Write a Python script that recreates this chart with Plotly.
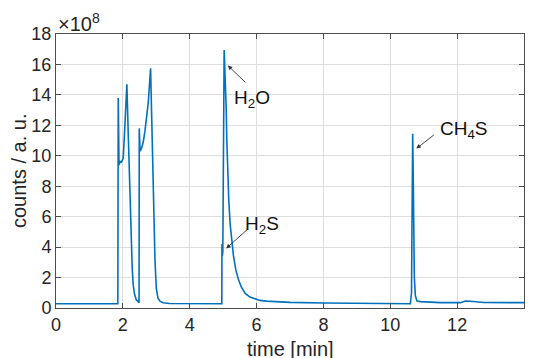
import plotly.graph_objects as go

# time [min]
time_min = [0.0, 1.85, 1.862, 1.885, 1.92, 1.95, 1.98, 2.01, 2.05, 2.09, 2.12,
            2.16, 2.20, 2.25, 2.28, 2.31, 2.35, 2.40, 2.46, 2.485, 2.49, 2.515,
            2.56, 2.61, 2.66, 2.71, 2.76, 2.80, 2.83, 2.86, 2.89, 2.93, 2.96,
            3.00, 3.05, 3.11, 3.20, 3.40, 4.00, 4.96, 4.965, 4.975, 4.99, 5.03,
            5.06, 5.09, 5.11, 5.14, 5.17, 5.21, 5.26, 5.31, 5.38, 5.46, 5.55,
            5.66, 5.80, 5.96, 6.10, 6.30, 6.60, 7.0, 8.0, 9.0, 10.0, 10.6,
            10.635, 10.66, 10.67, 10.69, 10.72, 10.75, 10.80, 10.9, 11.5, 12.1,
            12.25, 12.4, 12.8, 14.0]
# counts in units of 1e8
counts_e8 = [0.28, 0.28, 13.8, 9.4, 9.65, 9.55, 9.7, 9.8, 11.5, 13.6, 14.7,
             11.5, 8.2, 4.6, 2.6, 1.5, 0.9, 0.55, 0.35, 0.35, 11.8, 10.3,
             10.5, 10.9, 11.6, 12.4, 13.5, 14.8, 15.75, 12.8, 9.6, 5.8, 3.2,
             1.3, 0.65, 0.45, 0.35, 0.3, 0.28, 0.28, 4.2, 3.4, 3.7, 16.95,
             15.5, 13.2, 11.0, 8.8, 7.0, 5.5, 4.3, 3.4, 2.5, 1.85, 1.35,
             0.96, 0.72, 0.58, 0.5, 0.45, 0.41, 0.37, 0.33, 0.3, 0.28, 0.28,
             1.0, 8.5, 11.45, 8.0, 2.0, 0.8, 0.45, 0.42, 0.35, 0.35,
             0.46, 0.44, 0.36, 0.35]

x_ticks = [0, 2, 4, 6, 8, 10, 12, 14]
y_ticks = [0, 2, 4, 6, 8, 10, 12, 14, 16, 18]

# peak labels
peak_labels = ["H<sub>2</sub>O", "H<sub>2</sub>S", "CH<sub>4</sub>S"]
label_x = [5.27, 5.58, 11.44]
label_y = [13.7, 5.45, 11.67]
tip_x = [5.14, 5.09, 10.78]
tip_y = [15.93, 3.91, 10.47]
tail_x = [5.71, 5.76, 11.35]
tail_y = [14.73, 5.23, 11.45]

FONT = "Liberation Sans, Arial, sans-serif"
TXT = "#262626"

fig = go.Figure()
fig.add_trace(go.Scatter(x=time_min, y=counts_e8, mode="lines",
                         line=dict(color="#0072BD", width=1.6),
                         showlegend=False))

annotations = []
for i in range(len(peak_labels)):
    annotations.append(dict(x=tip_x[i], y=tip_y[i], ax=tail_x[i], ay=tail_y[i],
                            xref="x", yref="y", axref="x", ayref="y",
                            text="", showarrow=True, arrowhead=2, arrowsize=1,
                            arrowwidth=0.9, arrowcolor="#333333"))
    annotations.append(dict(x=label_x[i], y=label_y[i], xref="x", yref="y",
                            text=peak_labels[i], showarrow=False,
                            xanchor="left", yanchor="middle",
                            font=dict(family=FONT, size=19, color="#111111")))
annotations.append(dict(x=0, y=1.0, xref="paper", yref="paper",
                        text="×10<sup>8</sup>", showarrow=False,
                        xanchor="left", yanchor="bottom", yshift=-3,
                        font=dict(family=FONT, size=20, color=TXT)))
# axis titles as annotations for exact placement
annotations.append(dict(x=0.5, y=0, xref="paper", yref="paper",
                        text="time [min]", showarrow=False,
                        xanchor="center", yanchor="middle", yshift=-41,
                        font=dict(family=FONT, size=20, color=TXT)))
annotations.append(dict(x=0, y=0.5, xref="paper", yref="paper",
                        text="counts / a. u.", showarrow=False, textangle=-90,
                        xanchor="center", yanchor="middle", xshift=-37,
                        font=dict(family=FONT, size=20, color=TXT)))

axis_common = dict(showline=True, linecolor="#4d4d4d", linewidth=1,
                   mirror="ticks", ticks="inside", ticklen=5,
                   tickcolor="#4d4d4d", showgrid=True, gridcolor="#dedede",
                   gridwidth=1, zeroline=False, automargin=False,
                   tickfont=dict(family=FONT, size=18, color=TXT))

# page body has an 8px default margin, so the figure is sized to compensate
fig.update_layout(
    width=525, height=350,
    margin=dict(l=48, r=9, t=26, b=50),
    paper_bgcolor="white", plot_bgcolor="white",
    xaxis=dict(range=[0, 14], tickvals=x_ticks, **axis_common),
    yaxis=dict(range=[0, 18], tickvals=y_ticks, **axis_common),
    annotations=annotations,
)

fig.write_html("out.html")
